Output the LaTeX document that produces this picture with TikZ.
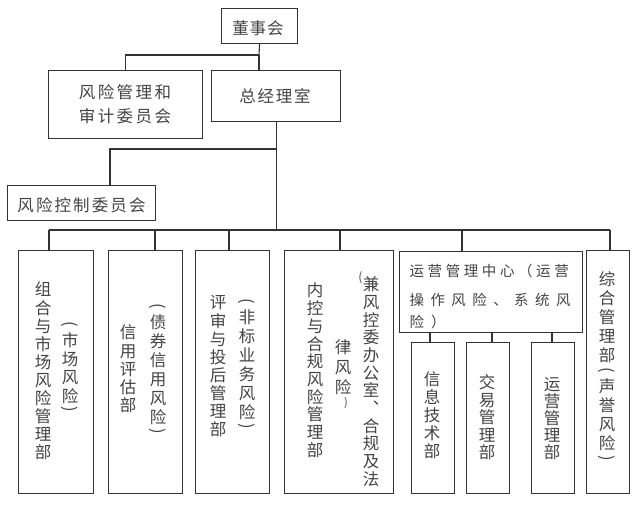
\documentclass[tikz,border=0pt]{standalone}
\usepackage{fontspec}
\usepackage{graphicx}
\newfontfamily\zhfont{Noto Sans CJK SC}
\definecolor{txt}{HTML}{444444}
\definecolor{ln}{HTML}{333333}
\makeatletter
% vertical stack: #1 pitch (pt number), #2 paren cell height (pt number), #3 characters
\newcommand\vstk[3]{\def\vstk@p{#1}\def\vstk@q{#2}\vbox{\offinterlineskip\vstk@loop#3\relax}}
\def\vstk@loop#1{\ifx\relax#1\else\vstk@cell{#1}\expandafter\vstk@loop\fi}
\def\vstk@cell#1{%
  \ifx︵#1\vstk@par{(}\else
  \ifx︶#1\vstk@par{)}\else
  \hbox to 0pt{\hss\vrule height \dimexpr\vstk@p pt/2+6.3pt\relax depth \dimexpr\vstk@p pt/2-6.3pt\relax width 0pt #1\hss}%
  \fi\fi}
\def\vstk@par#1{\vbox to \vstk@q pt{\vss\hbox to 0pt{\hss\rotatebox[origin=c]{-90}{#1}\hss}\vss}}
% justified horizontal line: #1 width, #2 characters
\newcommand\hjust[2]{\hbox to #1{\hjust@first#2\relax}}
\def\hjust@first#1{#1\hjust@loop}
\def\hjust@loop#1{\ifx\relax#1\else\hfil#1\expandafter\hjust@loop\fi}
\makeatother
\begin{document}
\begin{tikzpicture}[x=1pt,y=-1pt,
  box/.style={draw=ln, line width=1.1pt, inner sep=0pt, anchor=north west, fill=none},
  conn/.style={draw=ln, line width=1.1pt},
  lbl/.style={text=txt, inner sep=0pt, font=\zhfont\fontsize{16.5}{18}\selectfont},
  sml/.style={text=txt, inner sep=0pt, font=\zhfont\fontsize{14.5}{16}\selectfont}]
\useasboundingbox[fill=white] (0,0) rectangle (640,504);
% boxes
\node[box, minimum width=76pt,  minimum height=35pt]  (dsh) at (221,8) {};
\node[box, minimum width=154pt, minimum height=68pt]  (fxb) at (48,70) {};
\node[box, minimum width=129pt, minimum height=51pt]  (zjl) at (211,70) {};
\node[box, minimum width=148pt, minimum height=35pt]  (fkc) at (7,185) {};
\node[box, minimum width=75pt,  minimum height=243pt] (b1) at (18,250) {};
\node[box, minimum width=74pt,  minimum height=243pt] (b2) at (108,250) {};
\node[box, minimum width=74pt,  minimum height=243pt] (b3) at (195,250) {};
\node[box, minimum width=109pt, minimum height=243pt] (b4) at (284,250) {};
\node[box, minimum width=183pt, minimum height=81pt]  (yy) at (399,251) {};
\node[box, minimum width=43pt,  minimum height=151pt] (s1) at (411,342) {};
\node[box, minimum width=43pt,  minimum height=151pt] (s2) at (466,342) {};
\node[box, minimum width=43pt,  minimum height=151pt] (s3) at (531,342) {};
\node[box, minimum width=43pt,  minimum height=243pt] (zh) at (586,250) {};
% horizontal labels
\node[lbl, anchor=base] (tdsh) at (258,34.6) {\hjust{51.2pt}{董事会}};
\node[lbl, anchor=base] (tfx1) at (125,98.8) {\hjust{92.2pt}{风险管理和}};
\node[lbl, anchor=base] (tfx2) at (125,122.8) {\hjust{92.2pt}{审计委员会}};
\node[lbl, anchor=base] (tzjl) at (275,102.8) {\hjust{71.2pt}{总经理室}};
\node[lbl, anchor=base] (tfkc) at (81.5,211.3) {\hjust{128.2pt}{风险控制委员会}};
% operations centre text
\node[sml, anchor=base west] (ty1) at (409.4,276.5) {\hjust{159.2pt}{运营管理中心（运营}};
\node[sml, anchor=base west] (ty2) at (409.4,305.5) {\hjust{161pt}{操作风险、系统风}};
\node[sml, anchor=base west] (ty3) at (409.4,327.5) {\hjust{36pt}{险）}};
% vertical labels
\node[lbl, anchor=north] (t1a) at (43,280.4)   {\vstk{18.1}{11}{组合与市场风险管理部}};
\node[lbl, anchor=north] (t1b) at (70,320.2)   {\vstk{18.5}{11}{︵市场风险︶}};
\node[lbl, anchor=north] (t2a) at (128,323.35) {\vstk{18.2}{11}{信用评估部}};
\node[lbl, anchor=north] (t2b) at (158,301.95) {\vstk{19}{11}{︵债券信用风险︶}};
\node[lbl, anchor=north] (t3a) at (218,293.4)  {\vstk{18.1}{11}{评审与投后管理部}};
\node[lbl, anchor=north] (t3b) at (247,296.95) {\vstk{19}{11}{︵非标业务风险︶}};
\node[lbl, anchor=north] (t4a) at (315,281.6)  {\vstk{17.7}{11}{内控与合规风险管理部}};
\node[lbl, anchor=north] (t4b) at (343,337.45) {\vstk{20}{11}{律风险}};
\node[lbl, anchor=north] (t4c) at (371,275.3)  {\vstk{17.7}{11}{兼风控委办公室︑合规及法}};
\node[text=txt, inner sep=0pt, font=\zhfont\fontsize{12}{13}\selectfont] (t4p) at (360.5,278) {(};
\node[text=txt, inner sep=0pt, font=\zhfont\fontsize{11}{12}\selectfont] (t4q) at (346,403) {)};
\node[lbl, anchor=north] (ts1) at (432,370.45) {\vstk{18}{11}{信息技术部}};
\node[lbl, anchor=north] (ts2) at (487,373.7)  {\vstk{17.5}{11}{交易管理部}};
\node[lbl, anchor=north] (ts3) at (552,375.95) {\vstk{17}{11}{运营管理部}};
\node[lbl, anchor=north] (tzh) at (607,269.95) {\vstk{19}{12}{综合管理部︵声誉风险︶}};
% connectors
\coordinate (j1) at (259,55);
\coordinate (j2) at (110,149);
\coordinate (d1) at (49,230);
\coordinate (d2) at (155,230);
\coordinate (d3) at (229,230);
\coordinate (d4) at (340,230);
\coordinate (d5) at (462,230);
\coordinate (d6) at (610,230);
\coordinate (e1) at (430,0);
\coordinate (e2) at (492,0);
\coordinate (e3) at (552,0);
\draw[conn] (dsh.south) -- (j1);
\draw[conn] (j1) -| (fxb.north);
\draw[conn] (j1) -- (j1 |- zjl.north);
\draw[conn] (zjl.south) -- (zjl.south |- d1);
\draw[conn] (zjl.south |- j2) -- (j2) -- (j2 |- fkc.north);
\draw[conn] (d1) -- (d6);
\draw[conn] (d1) -- (d1 |- b1.north);
\draw[conn] (d2) -- (d2 |- b2.north);
\draw[conn] (d3) -- (d3 |- b3.north);
\draw[conn] (d4) -- (d4 |- b4.north);
\draw[conn] (d5) -- (d5 |- yy.north);
\draw[conn] (d6) -- (d6 |- zh.north);
\draw[conn] (yy.south -| e1) -- (s1.north -| e1);
\draw[conn] (yy.south -| e2) -- (s2.north -| e2);
\draw[conn] (yy.south -| e3) -- (s3.north -| e3);
\end{tikzpicture}
\end{document}
